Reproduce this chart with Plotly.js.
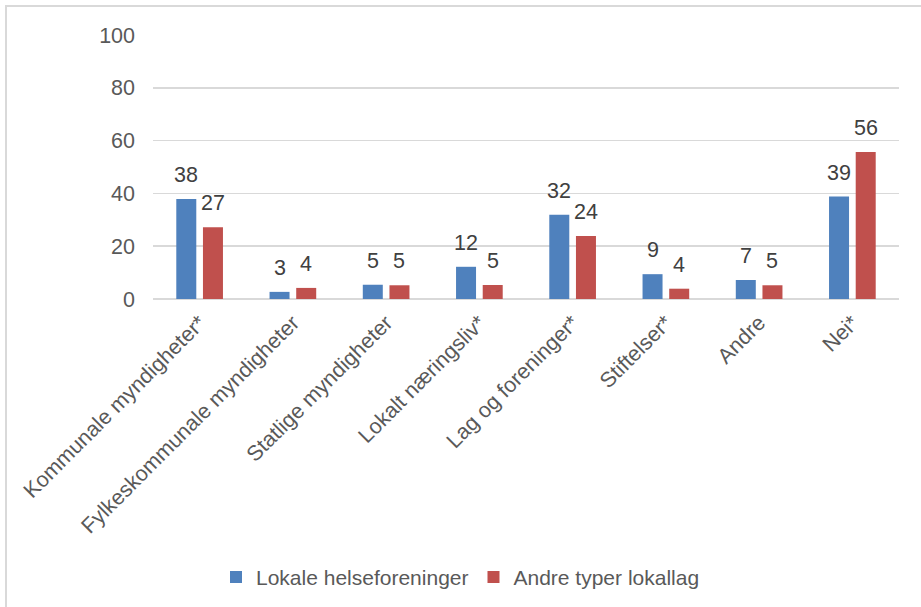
<!DOCTYPE html>
<html>
<head>
<meta charset="utf-8">
<script src="https://cdn.plot.ly/plotly-3.0.1.min.js"></script>
<style>
  html, body { margin: 0; padding: 0; background: #fff; }
  #chart { width: 921px; height: 607px; position: absolute; left: 0; top: 0; }
  #frame { position: absolute; left: 5px; top: 5px; width: 916px; height: 602px;
           border-top: 2px solid #D9D9D9; border-left: 2px solid #D9D9D9; box-sizing: border-box; pointer-events: none; }
</style>
</head>
<body>
<div id="chart"></div>
<div id="frame"></div>
<script>
const categories = ["Kommunale myndigheter*", "Fylkeskommunale myndigheter", "Statlige myndigheter",
  "Lokalt næringsliv*", "Lag og foreninger*", "Stiftelser*", "Andre", "Nei*"];
const seriesNames = ["Lokale helseforeninger", "Andre typer lokallag"];
const helseValues = [37.9, 2.7, 5.4, 12.2, 31.9, 9.4, 7.2, 38.8];
const helseLabels = ["38", "3", "5", "12", "32", "9", "7", "39"];
const andreValues = [27.2, 4.2, 5.2, 5.3, 23.9, 3.9, 5.2, 55.7];
const andreLabels = ["27", "4", "5", "5", "24", "4", "5", "56"];
const yTicks = [0, 20, 40, 60, 80, 100];

const textColor = "#595959";
const fontFam = "Liberation Sans, Arial, sans-serif";
const fs = 21.5;

const traces = [
  { type: "bar", name: seriesNames[0], x: categories, y: helseValues,
    marker: { color: "#4F81BD" }, hoverinfo: "none" },
  { type: "bar", name: seriesNames[1], x: categories, y: andreValues,
    marker: { color: "#C0504D" }, hoverinfo: "none" }
];

const annotations = [];
categories.forEach((c, i) => {
  annotations.push({ x: c, y: helseValues[i], text: helseLabels[i], xref: "x", yref: "y",
    showarrow: false, xshift: -13.3, yshift: 24, font: { size: fs, color: "#404040", family: fontFam } });
  annotations.push({ x: c, y: andreValues[i], text: andreLabels[i], xref: "x", yref: "y",
    showarrow: false, xshift: 13.3, yshift: 24, font: { size: fs, color: "#404040", family: fontFam } });
});

const layout = {
  width: 921, height: 607,
  margin: { l: 153, r: 22, t: 35, b: 308 },
  paper_bgcolor: "#fff", plot_bgcolor: "#fff",
  font: { family: fontFam, size: fs, color: textColor },
  barmode: "group", bargap: 0.428, bargroupgap: 0.25,
  showlegend: true,
  legend: { orientation: "h", x: 0.5, xanchor: "center", xref: "container",
    y: 0.049, yref: "container", yanchor: "middle", itemwidth: 30,
    font: { size: 21, color: textColor, family: fontFam }, itemclick: false },
  xaxis: { tickangle: -45, tickfont: { size: fs, color: textColor }, showgrid: false,
    showline: false, zeroline: false, ticks: "", ticklabelstandoff: 6, fixedrange: true },
  yaxis: { range: [0, 100], tickvals: yTicks, showgrid: true, gridcolor: "#D9D9D9", gridwidth: 1.5,
    zeroline: true, zerolinecolor: "#D9D9D9", zerolinewidth: 1.5, showline: false, ticks: "",
    tickfont: { size: fs, color: textColor }, ticklabelstandoff: 17, fixedrange: true },
  annotations: annotations
};

Plotly.newPlot("chart", traces, layout, { displayModeBar: false, staticPlot: true });
</script>
</body>
</html>
